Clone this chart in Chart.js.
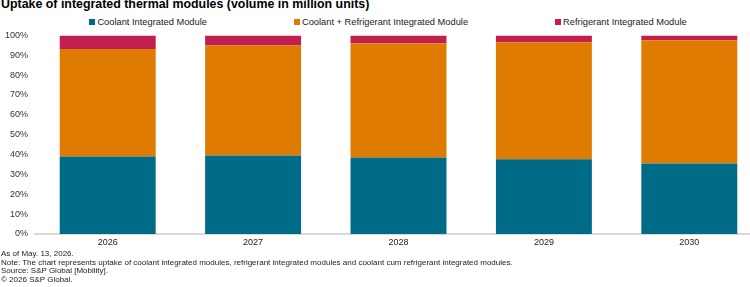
<!DOCTYPE html>
<html>
<head>
<meta charset="utf-8">
<script src="https://cdn.jsdelivr.net/npm/chart.js@4"></script>
<style>
  html, body { margin: 0; padding: 0; background: #fff; overflow: hidden; width: 750px; height: 287px; }
  body { position: relative; font-family: "Liberation Sans", Arial, sans-serif; }
  #title { position: absolute; left: 1px; top: -3px; font-size: 12.4px; font-weight: bold; color: #000; white-space: nowrap; }
  #legend { position: absolute; left: 0; top: 17px; width: 776px; display: flex; justify-content: center; gap: 87px; font-size: 9.3px; color: #222; }
  #legend span.item { display: flex; align-items: center; white-space: nowrap; }
  #legend i { display: inline-block; width: 6px; height: 6px; margin-right: 2px; }
  #wrap { position: absolute; left: 0; top: 23px; width: 762px; height: 227px; }
  #notes { position: absolute; left: 1px; top: 250px; font-size: 8px; line-height: 8.7px; color: #222; white-space: nowrap; }
</style>
</head>
<body>
<div id="title">Uptake of integrated thermal modules (volume in million units)</div>
<div id="legend"></div>
<div id="wrap"><canvas id="chart"></canvas></div>
<div id="notes"></div>
<script>
// ---- data (shares in %) ----
const years = ['2026', '2027', '2028', '2029', '2030'];
const seriesNames = ['Coolant Integrated Module', 'Coolant + Refrigerant Integrated Module', 'Refrigerant Integrated Module'];
const coolant = [39.0, 39.5, 38.5, 37.7, 35.5];
const coolantRefrigerant = [54.1, 55.4, 57.5, 58.9, 62.1];
const refrigerant = [6.9, 5.1, 4.0, 3.4, 2.4];
const colors = ['#006b86', '#df7b00', '#c11f50'];
const footLines = [
  'As of May. 13, 2026.',
  'Note: The chart represents uptake of coolant integrated modules, refrigerant integrated modules and coolant cum refrigerant integrated modules.',
  'Source: S&P Global [Mobility].',
  '\u00a9 2026 S&P Global.'
];

// legend
const legend = document.getElementById('legend');
seriesNames.forEach((name, i) => {
  const item = document.createElement('span');
  item.className = 'item';
  item.innerHTML = `<i style="background:${colors[i]}"></i>${name}`;
  legend.appendChild(item);
});

// notes
document.getElementById('notes').innerHTML = footLines
  .map(l => `<div>${l.replace(/&/g, '&amp;')}</div>`).join('');

const values = [coolant, coolantRefrigerant, refrigerant];

new Chart(document.getElementById('chart'), {
  type: 'bar',
  data: {
    labels: years,
    datasets: seriesNames.map((name, i) => ({
      label: name,
      data: values[i],
      backgroundColor: colors[i],
      borderWidth: 0,
      barPercentage: 0.66,
      categoryPercentage: 1
    }))
  },
  options: {
    responsive: true,
    maintainAspectRatio: false,
    animation: false,
    layout: { padding: { top: 6, left: 0, right: 0, bottom: 0 } },
    plugins: { legend: { display: false }, tooltip: { enabled: false } },
    scales: {
      x: {
        stacked: true,
        grid: { display: false, drawTicks: false },
        border: { display: true, color: '#d9d9d9', width: 2 },
        ticks: { color: '#222', font: { family: 'Liberation Sans', size: 9 }, padding: 3 },
        afterFit: s => { s.height = 16; }
      },
      y: {
        stacked: true,
        min: 0,
        max: 100,
        grid: { display: false, drawTicks: false },
        border: { display: false },
        ticks: {
          stepSize: 10,
          color: '#333',
          font: { family: 'Liberation Sans', size: 9 },
          padding: 7,
          callback: v => v + '%'
        },
        afterFit: s => { s.width = 35; }
      }
    }
  }
});
</script>
</body>
</html>
